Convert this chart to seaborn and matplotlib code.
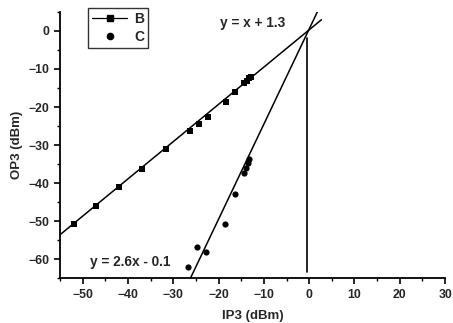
import matplotlib
matplotlib.use("Agg")
import matplotlib.pyplot as plt
import seaborn as sns
import numpy as np
import pandas as pd

# Data
b_x = [-52, -47, -42, -37, -31.6, -26.4, -24.4, -22.4, -18.4, -16.4, -14.4, -13.8, -13.2, -12.9]
b_y = [-50.8, -46, -41, -36.3, -31, -26.3, -24.5, -22.6, -18.6, -16.1, -13.6, -13.2, -12.5, -12.1]
c_x = [-26.7, -24.7, -22.7, -18.6, -16.4, -14.4, -13.9, -13.5, -13.2]
c_y = [-62.1, -56.8, -58.2, -50.8, -42.9, -37.4, -36.0, -34.8, -33.8]

# fitted lines as drawn (slope, intercept, x range)
fit_b = (0.98, 0.3, [-55, 2.7])
fit_c = (2.5, 0.5, [-26.2, 1.8])
vline_x = -0.4
vline_y = [-63.5, -1.8]

label_b = "y = x + 1.3"
label_c = "y = 2.6x - 0.1"
x_ticks = [-50, -40, -30, -20, -10, 0, 10, 20, 30]
y_ticks = [0, -10, -20, -30, -40, -50, -60]

sns.set_style("ticks")
plt.rcParams['font.family'] = ['Liberation Sans', 'DejaVu Sans']
plt.rcParams['font.weight'] = 'bold'

fig = plt.figure(figsize=(4.53, 3.23), dpi=100)
ax = fig.add_axes([0.1325, 0.139, 0.85, 0.824])

dfb = pd.DataFrame({"x": b_x, "y": b_y})
dfc = pd.DataFrame({"x": c_x, "y": c_y})

# fit lines
for (m, k, xr) in (fit_b, fit_c):
    xs = np.array(xr)
    sns.lineplot(x=xs, y=m * xs + k, ax=ax, color="black", lw=1.1, zorder=2)

ax.plot([vline_x, vline_x], vline_y, color="black", lw=1.2, zorder=2)

sns.scatterplot(data=dfb, x="x", y="y", ax=ax, marker="s", s=22, color="black",
                edgecolor="black", linewidth=0, zorder=3)
sns.scatterplot(data=dfc, x="x", y="y", ax=ax, marker="o", s=20, color="black",
                edgecolor="black", linewidth=0, zorder=3)

from matplotlib.lines import Line2D
handles = [Line2D([], [], color="black", lw=0.9, marker="s", markersize=4.5),
           Line2D([], [], color="black", lw=0, marker="o", markersize=4.5)]
leg = ax.legend(handles, ["B", "C"], loc="upper left", bbox_to_anchor=(0.073, 1.015),
                frameon=True, fancybox=False, edgecolor="black", fontsize=10,
                handlelength=2.5, borderpad=0.3, labelspacing=0.25, handletextpad=0.5,
                borderaxespad=0)
leg.get_frame().set_linewidth(1.0)
for t in leg.get_texts():
    t.set_fontweight("bold")

ax.text(-19.6, 2.1, label_b, fontsize=9.8, fontweight="bold", va="center", ha="left")
ax.text(-48.4, -60.8, label_c, fontsize=9.8, fontweight="bold", va="center", ha="left")

ax.set_xlim(-55, 30)
ax.set_ylim(-65, 5)
ax.set_xticks(x_ticks)
ax.set_yticks(y_ticks)
ax.set_xticks(np.arange(-55, 31, 5), minor=True)
ax.set_yticks(np.arange(-65, 6, 5), minor=True)
ax.tick_params(axis="both", which="major", direction="out", length=4, width=1.2,
               labelsize=8.8, color="black")
ax.tick_params(axis="both", which="minor", direction="out", length=2, width=1.0, color="black")
for lab in ax.get_xticklabels() + ax.get_yticklabels():
    lab.set_fontweight("bold")

sns.despine(ax=ax)
for s in ("left", "bottom"):
    ax.spines[s].set_linewidth(1.3)
    ax.spines[s].set_color("black")

ax.set_xlabel("IP3 (dBm)", fontsize=9.5, fontweight="bold", labelpad=7)
ax.set_ylabel("OP3 (dBm)", fontsize=9.5, fontweight="bold", labelpad=4)

fig.savefig("out.png", dpi=100)
